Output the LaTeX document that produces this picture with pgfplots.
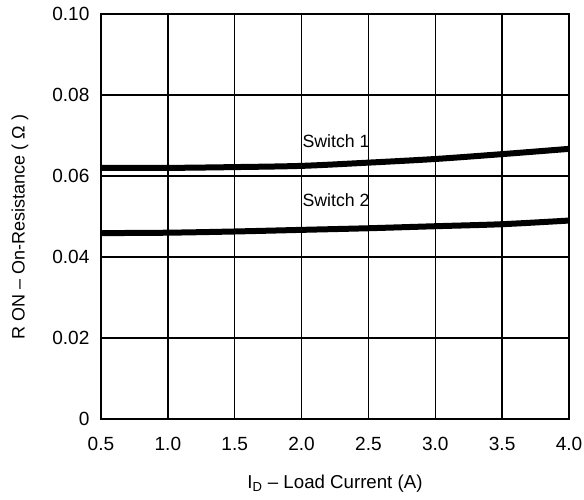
\documentclass[border=0pt]{standalone}
\usepackage{pgfplots}
\pgfplotsset{compat=1.18}
\usepackage{fontspec}
\setmainfont{Liberation Sans}
\newcommand{\lf}{\fontsize{14}{17}\selectfont}
\newcommand{\tkf}{\fontsize{14.3}{17}\selectfont}
\newcommand{\ylf}{\fontsize{13.5}{16}\selectfont}
\newcommand{\swf}{\fontsize{13.3}{16}\selectfont}
\begin{document}
\begin{tikzpicture}
\path[use as bounding box] (-75.75pt,-60pt) rectangle (362.25pt,314.25pt);
\begin{axis}[
  at={(0,0)}, anchor=south west,
  scale only axis, width=351pt, height=303.75pt,
  xmin=0.5, xmax=4.0, ymin=0, ymax=0.10,
  xtick={0.5,1.0,...,4.0}, ytick={0,0.02,0.04,0.06,0.08,0.10},
  xticklabels={0.5,1.0,1.5,2.0,2.5,3.0,3.5,4.0},
  yticklabels={0,0.02,0.04,0.06,0.08,0.10},
  major tick length=0pt,
  grid=major,
  major grid style={black, line width=1.1pt},
  axis line style={black, line width=1.2pt},
  /pgf/number format/assume math mode=true,
  xticklabel style={anchor=center, yshift=-18.5pt, inner sep=0pt, font=\tkf},
  yticklabel style={anchor=east, xshift=-8.5pt, inner sep=0pt, font=\tkf},
  xlabel={I\textsubscript{D} -- Load Current (A)},
  ylabel={R ON -- On-Resistance ( Ω )},
  xlabel style={at={(axis description cs:0.5,0)}, anchor=center, yshift=-48.5pt, inner sep=0pt, font=\lf},
  ylabel style={at={(axis description cs:-0.173,0.474)}, anchor=center, inner sep=0pt, font=\ylf},
  clip=false,
]
\addplot[black, line width=4.5pt, smooth] coordinates {
  (0.5,0.0620) (1.0,0.0620) (1.5,0.0622) (2.0,0.0625) (2.5,0.0633) (3.0,0.0642) (3.5,0.0654) (4.0,0.0667)
};
\addplot[black, line width=4.5pt, smooth] coordinates {
  (0.5,0.0459) (1.0,0.0460) (1.5,0.0463) (2.0,0.0467) (2.5,0.0471) (3.0,0.0476) (3.5,0.0481) (4.0,0.0490)
};
\node[font=\swf] at (axis cs:2.258,0.0686) {Switch 1};
\node[font=\swf] at (axis cs:2.258,0.0541) {Switch 2};
\end{axis}
\end{tikzpicture}
\end{document}
